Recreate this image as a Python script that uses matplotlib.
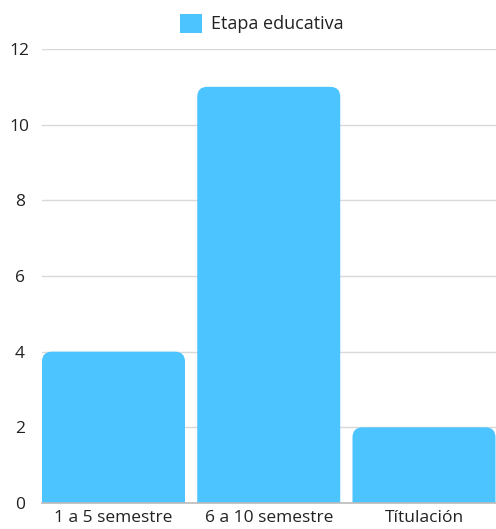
import matplotlib
matplotlib.use('Agg')
import matplotlib.pyplot as plt
from matplotlib.patches import FancyBboxPatch, Patch

# Datos
categorias = ['1 a 5 semestre', '6 a 10 semestre', 'Títulación']
valores = [4, 11, 2]
serie = 'Etapa educativa'
yticks = [0, 2, 4, 6, 8, 10, 12]

color_barra = '#4BC4FF'
plt.rcParams['font.family'] = ['Open Sans', 'DejaVu Sans']

fig = plt.figure(figsize=(4.96, 5.29), dpi=100)
ax = fig.add_axes([42 / 496, 26 / 529, 454 / 496, 454 / 529])

ax.set_xlim(-0.4605, 2.4638)
ax.set_ylim(0, 12)

# tamaño de un pixel en unidades de datos
px_x = (ax.get_xlim()[1] - ax.get_xlim()[0]) / (454)
px_y = 12 / 454
radio = 10 * px_x
ancho = 0.921

for i, v in enumerate(valores):
    caja = FancyBboxPatch((i - ancho / 2, -1), ancho, v + 1,
                          boxstyle=f'round,pad=0,rounding_size={radio}',
                          mutation_aspect=px_y / px_x,
                          facecolor=color_barra, edgecolor='none',
                          zorder=3, clip_on=True)
    ax.add_patch(caja)

ax.set_yticks(yticks)
ax.set_xticks(range(len(categorias)))
ax.set_xticklabels(categorias)
ax.grid(axis='y', color='#d9d9d9', linewidth=1, zorder=0)
ax.set_axisbelow(True)

for s in ['top', 'right', 'left']:
    ax.spines[s].set_visible(False)
ax.spines['bottom'].set_color('#bbbbbb')
ax.spines['bottom'].set_linewidth(1.2)
ax.spines['bottom'].set_zorder(4)

ax.tick_params(axis='both', length=0, labelsize=12.5, colors='#222222')
ax.tick_params(axis='y', pad=16)
ax.tick_params(axis='x', pad=5)
for lab in ax.get_yticklabels():
    lab.set_horizontalalignment('center')

fig.legend(handles=[Patch(facecolor=color_barra, edgecolor='none', label=serie)],
           loc='upper center', bbox_to_anchor=(0.528, 1.005), frameon=False,
           fontsize=13, handlelength=1.25, handleheight=1.25, handletextpad=0.5,
           labelcolor='#222222')

fig.savefig('out.png', dpi=100)
